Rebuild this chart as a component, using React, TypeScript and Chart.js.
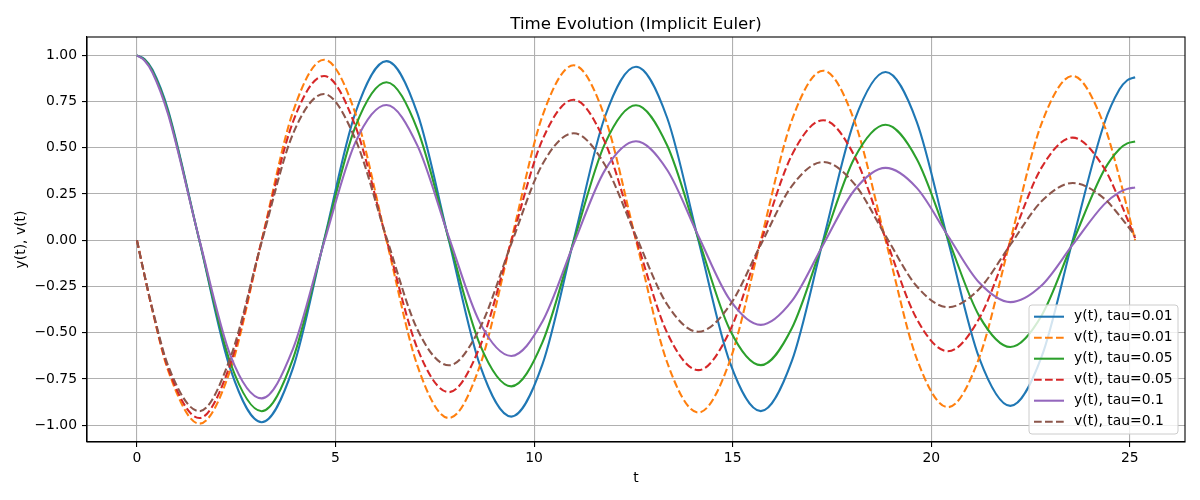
import React, { useEffect, useRef } from 'react';
import { Chart, registerables } from 'chart.js';

Chart.register(...registerables);

// time axis, sampled every pi/4 (a little denser at both ends)
const tValues = [
  0, 0.196, 0.393, 0.785, 1.571, 2.356, 3.142, 3.927, 4.712, 5.498, 6.283, 7.069,
  7.854, 8.639, 9.425, 10.21, 10.996, 11.781, 12.566, 13.352, 14.137, 14.923,
  15.708, 16.493, 17.279, 18.064, 18.85, 19.635, 20.42, 21.206, 21.991, 22.777,
  23.562, 24.347, 24.74, 24.936, 25.133,
];

const yTau001 = [
  1.0, 0.9798, 0.9221, 0.7043, 0, -0.6988, -0.9844, -0.6934, 0, 0.6879, 0.9691,
  0.6825, 0, -0.6772, -0.954, -0.6719, 0, 0.6667, 0.9391, 0.6614, 0, -0.6563,
  -0.9245, -0.6511, 0, 0.646, 0.9101, 0.641, 0, -0.636, -0.8959, -0.631, 0,
  0.6261, 0.8164, 0.8658, 0.8819,
];
const vTau001 = [
  0, -0.1949, -0.3819, -0.7043, -0.9922, -0.6988, 0, 0.6934, 0.9767, 0.6879, 0,
  -0.6825, -0.9615, -0.6772, 0, 0.6719, 0.9465, 0.6667, 0, -0.6614, -0.9318,
  -0.6563, 0, 0.6511, 0.9172, 0.646, 0, -0.641, -0.9029, -0.636, 0, 0.631,
  0.8889, 0.6261, 0.3382, 0.1722, 0,
];
const yTau005 = [
  1.0, 0.976, 0.915, 0.6938, 0.0013, -0.6654, -0.9246, -0.6432, -0.0035, 0.6136,
  0.8548, 0.5962, 0.0054, -0.5658, -0.7903, -0.5526, -0.007, 0.5217, 0.7307,
  0.5123, 0.0083, -0.4811, -0.6755, -0.4748, -0.0093, 0.4436, 0.6246, 0.4401,
  0.0102, -0.4091, -0.5775, -0.408, -0.0109, 0.3772, 0.4939, 0.524, 0.5339,
];
const vTau005 = [
  0, -0.194, -0.3787, -0.6929, -0.9615, -0.668, -0.0024, 0.639, 0.889, 0.6192,
  0.0045, -0.5892, -0.8219, -0.574, -0.0062, 0.5433, 0.7599, 0.5321, 0.0076,
  -0.501, -0.7026, -0.4932, -0.0088, 0.462, 0.6496, 0.4571, 0.0098, -0.426,
  -0.6006, -0.4238, -0.0106, 0.3928, 0.5552, 0.3928, 0.2166, 0.1156, 0.0112,
];
const yTau01 = [
  1.0, 0.9714, 0.9065, 0.6818, 0.0048, -0.624, -0.8553, -0.5892, -0.0123, 0.5281,
  0.7316, 0.5091, 0.0176, -0.4469, -0.6257, -0.4399, -0.0211, 0.3782, 0.5352,
  0.38, 0.0232, -0.3199, -0.4578, -0.3283, -0.0242, 0.2707, 0.3915, 0.2835,
  0.0245, -0.2289, -0.3349, -0.2449, -0.0242, 0.1929, 0.2598, 0.278, 0.2854,
];
const vTau01 = [
  0, -0.1926, -0.3741, -0.6782, -0.9248, -0.6338, -0.0089, 0.5741, 0.791, 0.5477,
  0.0152, -0.4858, -0.6766, -0.4732, -0.0195, 0.4111, 0.5787, 0.4088, 0.0223,
  -0.3478, -0.495, -0.3532, -0.0238, 0.2943, 0.4233, 0.3051, 0.0244, -0.2489,
  -0.3621, -0.2635, -0.0244, 0.2105, 0.3097, 0.2269, 0.1335, 0.0796, 0.0238,
];

const xTicks = [0, 5, 10, 15, 20, 25];
const yTicks = [-1, -0.75, -0.5, -0.25, 0, 0.25, 0.5, 0.75, 1];

const series = [
  { label: 'y(t), tau=0.01', data: yTau001, color: '#1f77b4', dashed: false },
  { label: 'v(t), tau=0.01', data: vTau001, color: '#ff7f0e', dashed: true },
  { label: 'y(t), tau=0.05', data: yTau005, color: '#2ca02c', dashed: false },
  { label: 'v(t), tau=0.05', data: vTau005, color: '#d62728', dashed: true },
  { label: 'y(t), tau=0.1', data: yTau01, color: '#9467bd', dashed: false },
  { label: 'v(t), tau=0.1', data: vTau01, color: '#8c564b', dashed: true },
];

const FONT = '"DejaVu Sans", sans-serif';
const DASH = [7.7, 3.3];

// frame, title, axis labels and the in-plot legend (matplotlib style)
const decorPlugin = {
  id: 'decor',
  afterDraw(chart: any) {
    const { ctx, chartArea: a } = chart;
    ctx.save();
    ctx.strokeStyle = '#000';
    ctx.lineWidth = 1.1;
    ctx.strokeRect(a.left, a.top, a.right - a.left, a.bottom - a.top);

    const cx = (a.left + a.right) / 2;
    ctx.fillStyle = '#000';
    ctx.textAlign = 'center';
    ctx.textBaseline = 'alphabetic';
    ctx.font = `16.67px ${FONT}`;
    ctx.fillText('Time Evolution (Implicit Euler)', cx, 29);

    ctx.font = `13.9px ${FONT}`;
    ctx.fillText('t', cx, 482);

    ctx.save();
    ctx.translate(21, (a.top + a.bottom) / 2);
    ctx.rotate(-Math.PI / 2);
    ctx.textBaseline = 'middle';
    ctx.fillText('y(t), v(t)', 0, 0);
    ctx.restore();

    // legend box
    const bx = 1029, by = 305, bw = 149, bh = 129;
    ctx.beginPath();
    ctx.roundRect(bx, by, bw, bh, 3);
    ctx.fillStyle = 'rgba(255,255,255,0.8)';
    ctx.fill();
    ctx.strokeStyle = '#cccccc';
    ctx.lineWidth = 1;
    ctx.stroke();

    ctx.textAlign = 'left';
    ctx.textBaseline = 'middle';
    series.forEach((s, i) => {
      const ry = 316.7 + i * 21;
      ctx.beginPath();
      ctx.setLineDash(s.dashed ? DASH : []);
      ctx.strokeStyle = s.color;
      ctx.lineWidth = 2.08;
      ctx.moveTo(1034, ry);
      ctx.lineTo(1064, ry);
      ctx.stroke();
      ctx.setLineDash([]);
      ctx.fillStyle = '#000';
      ctx.fillText(s.label, 1074, ry);
    });
    ctx.restore();
  },
};

const axisStyle = {
  grid: { color: '#b0b0b0', lineWidth: 1.1, tickColor: '#000', tickWidth: 1.1, tickLength: 5 },
  border: { color: '#000', width: 1.1 },
};

const App: React.FC = () => {
  const chartRef = useRef<HTMLCanvasElement | null>(null);

  useEffect(() => {
    document.body.style.margin = '0';
    if (!chartRef.current) return;
    const ctx = chartRef.current.getContext('2d');
    if (!ctx) return;

    Chart.defaults.font.family = FONT;

    const myChart = new Chart(ctx, {
      type: 'line',
      data: {
        datasets: series.map((s, i) => ({
          label: s.label,
          data: tValues.map((t, j) => ({ x: t, y: s.data[j] })),
          borderColor: s.color,
          backgroundColor: s.color,
          borderWidth: 2.08,
          borderDash: s.dashed ? DASH : [],
          pointRadius: 0,
          fill: false,
          cubicInterpolationMode: 'monotone',
          order: series.length - i, // later series drawn on top
        })),
      },
      options: {
        animation: false,
        responsive: false,
        layout: { padding: { top: 37, right: 15, left: 0, bottom: 0 } },
        plugins: {
          legend: { display: false },
          title: { display: false },
          tooltip: { enabled: false },
        },
        scales: {
          x: {
            type: 'linear',
            min: -1.2566,
            max: 26.389,
            ...axisStyle,
            afterBuildTicks: (scale: any) => {
              scale.ticks = xTicks.map((value) => ({ value }));
            },
            afterFit: (scale: any) => {
              scale.height = 58;
            },
            ticks: {
              autoSkip: false,
              color: '#000',
              padding: 3,
              font: { size: 13.9 },
              callback: (v: any) => String(v),
            },
          },
          y: {
            type: 'linear',
            min: -1.0914,
            max: 1.0996,
            ...axisStyle,
            afterBuildTicks: (scale: any) => {
              scale.ticks = yTicks.map((value) => ({ value }));
            },
            afterFit: (scale: any) => {
              scale.width = 87;
            },
            ticks: {
              autoSkip: false,
              color: '#000',
              padding: 5,
              font: { size: 13.9 },
              callback: (v: any) => Number(v).toFixed(2).replace('-', '\u2212'),
            },
          },
        },
      },
      plugins: [decorPlugin],
    } as any);

    return () => {
      myChart.destroy();
    };
  }, []);

  return (
    <div style={{ width: 1200, height: 500 }}>
      <canvas ref={chartRef} width="1200" height="500" style={{ display: 'block' }} />
    </div>
  );
};

export default App;
